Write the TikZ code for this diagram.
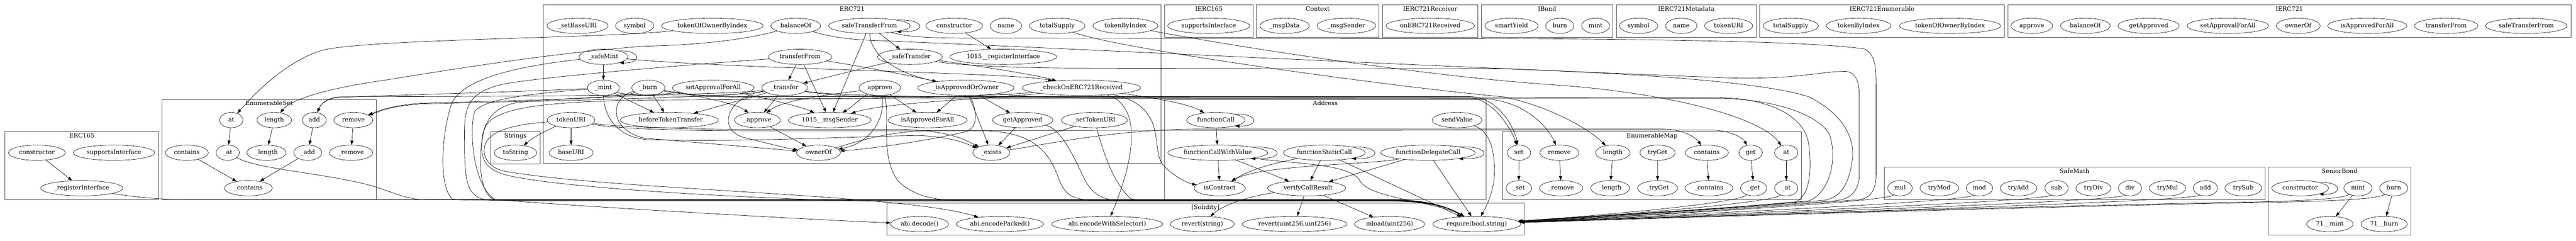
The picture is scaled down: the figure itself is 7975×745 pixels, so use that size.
\documentclass[tikz,border=0pt]{standalone}
\usepackage{fontspec}
\setmainfont{DejaVu Serif}
\usetikzlibrary{shapes.geometric,arrows.meta}
\newcommand\fs{\fontsize{14}{16}\selectfont}
\tikzset{
  fn/.style={ellipse, draw, line width=0.75pt, inner sep=0pt, minimum height=35.6pt,
             text height=10.5pt, text depth=3pt, font=\fs},
  clus/.style={draw=black!70, line width=1pt},
  clab/.style={inner sep=0pt, text height=10.5pt, text depth=3pt, font=\fs},
  conn/.style={line width=0.8pt, -{Triangle[length=10pt,width=7pt]}},
}
\newcommand\fnode[5]{\node[fn, minimum width=#4*0.75pt] (#1) at (#2,#3) {#5};}
\newcommand\clus[6]{\draw[clus] (#1,#2) rectangle (#3,#4); \node[clab] (#5) at ({(#1+#3)/2},{#2+14}) {#6};}
\newcommand\sloop[3]{\draw[conn] (#1.#2) .. controls +(#3,-3) and +(#3,3) .. (#1.-#2);}
\begin{document}
\begin{tikzpicture}[x=0.75pt,y=-0.75pt]
\useasboundingbox (0,0) rectangle (7975,745);
% ---------------- clusters
\clus{15.7}{407.6}{490.7}{618.5}{lE165}{ERC165}
\clus{501}{307.8}{1165}{618.5}{lES}{EnumerableSet}
\clus{1519.6}{407.6}{1671.8}{507.4}{lStr}{Strings}
\clus{1682}{15.7}{3594}{507}{lE721}{ERC721}
\clus{3605}{15.7}{3880}{115.4}{lI165}{IERC165}
\clus{3890}{15.7}{4269}{115.4}{lCtx}{Context}
\clus{4279.7}{15.7}{4575.7}{115.4}{lRecv}{IERC721Receiver}
\clus{4586}{15.7}{4993}{115.4}{lBond}{IBond}
\clus{5003.6}{15.7}{5437.5}{115.4}{lMeta}{IERC721Metadata}
\clus{5447.6}{15.7}{6205}{115.4}{lEnum}{IERC721Enumerable}
\clus{6215.7}{15.7}{7959}{115.4}{lI721}{IERC721}
\clus{3605}{307.8}{4600.7}{618.5}{lAddr}{Address}
\clus{4652}{407.6}{5577}{618.5}{lEM}{EnumerableMap}
\clus{2745}{629.5}{4718.6}{728}{lSol}{[Solidity]}
\clus{5833}{518}{7011.7}{618.5}{lSM}{SafeMath}
\clus{7022}{518}{7464}{728}{lSB}{SeniorBond}
% ---------------- ERC165
\fnode{eCtor}{114}{473}{176}{constructor}
\fnode{eSupp}{353}{473}{252}{supportsInterface}
\fnode{eReg}{253}{583}{255}{\_registerInterface}
% ---------------- EnumerableSet
\fnode{esContains}{578.5}{473}{133}{contains}
\fnode{esAt}{716}{372}{72}{at}
\fnode{esLength}{849}{372}{107}{length}
\fnode{esAdd}{973}{372}{74}{add}
\fnode{esRemove}{1094}{372}{121}{remove}
\fnode{esAtP}{705}{473}{72}{\_at}
\fnode{esLengthP}{825}{473}{121}{\_length}
\fnode{esAddP}{953}{473}{87}{\_add}
\fnode{esRemoveP}{1087}{473}{134}{\_remove}
\fnode{esContainsP}{769}{583}{148}{\_contains}
% ---------------- Strings
\fnode{toStr}{1596}{473}{131.5}{toString}
% ---------------- ERC721
\fnode{setBase}{1788}{80}{189}{\_setBaseURI}
\fnode{symb}{1965}{80}{119}{symbol}
\fnode{tOfOwner}{2205}{80}{315}{tokenOfOwnerByIndex}
\fnode{balOf}{2463.6}{80}{154}{balanceOf}
\fnode{sTF}{2691.6}{80}{253}{safeTransferFrom}
\fnode{ctorE}{2954}{80}{176}{constructor}
\fnode{nameN}{3114}{80}{97}{name}
\fnode{totSup}{3273}{80}{172}{totalSupply}
\fnode{tByIdx}{3484}{80}{201}{tokenByIndex}
\fnode{safeMint}{1868}{176}{151}{\_safeMint}
\fnode{tF}{2477}{176}{196}{transferFrom}
\fnode{safeTr}{2817}{176}{200.6}{\_safeTransfer}
\fnode{regK}{3106}{176}{331}{1015\_\_registerInterface}
\fnode{mintP}{1868}{272}{99}{\_mint}
\fnode{burnP}{2007}{272}{102}{\_burn}
\fnode{setAFA}{2208}{272}{253}{setApprovalForAll}
\fnode{transferP}{2429}{272}{141}{\_transfer}
\fnode{approveN}{2724}{272}{128}{approve}
\fnode{isAOO}{2990}{272}{298}{\_isApprovedOrOwner}
\fnode{checkOn}{3348}{272}{367}{\_checkOnERC721Received}
\fnode{tokURI}{1768}{372}{148}{tokenURI}
\fnode{beforeTT}{2072}{372}{304}{\_beforeTokenTransfer}
\fnode{approveP}{2345}{372}{142}{\_approve}
\fnode{msgSK}{2568.6}{372}{257}{1015\_\_msgSender}
\fnode{isAFA}{2871.6}{372}{245}{isApprovedForAll}
\fnode{getApp}{3166}{372}{187}{getApproved}
\fnode{setTU}{3388}{372}{205}{\_setTokenURI}
\fnode{baseURIN}{1768}{473}{136}{baseURI}
\fnode{ownerOfN}{2534}{473}{136}{ownerOf}
\fnode{existsP}{3069}{473}{114.5}{\_exists}
% ---------------- interfaces / context
\fnode{iSupp}{3742}{80}{254}{supportsInterface}
\fnode{msgData}{3977}{80}{153}{\_msgData}
\fnode{msgSender}{4168}{80}{182}{\_msgSender}
\fnode{onRecv}{4427.7}{80}{275}{onERC721Received}
\fnode{smartY}{4679.5}{80}{165}{smartYield}
\fnode{ibBurn}{4829}{80}{87}{burn}
\fnode{ibMint}{4939.6}{80}{86.5}{mint}
\fnode{mdSym}{5072.7}{80}{118}{symbol}
\fnode{mdName}{5205}{80}{97}{name}
\fnode{mdURI}{5351.5}{80}{149}{tokenURI}
\fnode{enTot}{5544}{80}{171}{totalSupply}
\fnode{enByIdx}{5754}{80}{200}{tokenByIndex}
\fnode{enOwner}{6037}{80}{314}{tokenOfOwnerByIndex}
\fnode{iApp}{6290}{80}{129}{approve}
\fnode{iBal}{6456}{80}{154}{balanceOf}
\fnode{iGet}{6652}{80}{189}{getApproved}
\fnode{iSAFA}{6897}{80}{252}{setApprovalForAll}
\fnode{iOwn}{7115}{80}{136}{ownerOf}
\fnode{iIAFA}{7328.6}{80}{245}{isApprovedForAll}
\fnode{iTF}{7573}{80}{196}{transferFrom}
\fnode{iSTF}{7821}{80}{253}{safeTransferFrom}
% ---------------- Address
\fnode{fCall}{3764}{372}{181}{functionCall}
\fnode{fCWV}{3770}{473}{309}{functionCallWithValue}
\fnode{isContr}{3776}{583}{159}{isContract}
\fnode{verify}{4045}{583}{242}{\_verifyCallResult}
\fnode{fStatic}{4100}{473}{254}{functionStaticCall}
\fnode{fDeleg}{4421}{473}{292}{functionDelegateCall}
\fnode{sendV}{4511}{372}{154}{sendValue}
% ---------------- EnumerableMap
\fnode{emSet}{4702.5}{473}{72}{set}
\fnode{emRemove}{4827.6}{473}{121}{remove}
\fnode{emLength}{4993}{473}{107}{length}
\fnode{emTryGet}{5131.5}{473}{109}{tryGet}
\fnode{emContains}{5284}{473}{133.5}{contains}
\fnode{emGet}{5419.7}{473}{72}{get}
\fnode{emAt}{5530}{473}{72}{at}
\fnode{emSetP}{4702}{583}{79}{\_set}
\fnode{emRemoveP}{4833}{583}{134}{\_remove}
\fnode{emLengthP}{4985}{583}{121}{\_length}
\fnode{emTryGetP}{5131.7}{583}{124}{\_tryGet}
\fnode{emContainsP}{5290.5}{583}{148}{\_contains}
\fnode{emGetP}{5429}{583}{81}{\_get}
\fnode{emAtP}{5530}{583}{72}{\_at}
% ---------------- Solidity
\fnode{abiDec}{2847}{694}{180}{abi.decode()}
\fnode{abiEnc}{3095.5}{694}{270.6}{abi.encodePacked()}
\fnode{abiSel}{3428}{694}{344}{abi.encodeWithSelector()}
\fnode{revStr}{3722}{694}{198}{revert(string)}
\fnode{revUint}{4008}{694}{324}{revert(uint256,uint256)}
\fnode{mloadN}{4302}{694}{217.5}{mload(uint256)}
\fnode{requireN}{4572}{694}{273}{require(bool,string)}
% ---------------- SafeMath
\fnode{smMul}{5882}{583}{76}{mul}
\fnode{smTryMod}{6004}{583}{120}{tryMod}
\fnode{smMod}{6128}{583}{82}{mod}
\fnode{smTryAdd}{6249}{583}{114}{tryAdd}
\fnode{smSub}{6366.7}{583}{72}{sub}
\fnode{smTryDiv}{6481}{583}{108}{tryDiv}
\fnode{smDiv}{6594}{583}{72}{div}
\fnode{smTryMul}{6710.6}{583}{113}{tryMul}
\fnode{smAdd}{6827.7}{583}{75}{add}
\fnode{smTrySub}{6945}{583}{114}{trySub}
% ---------------- SeniorBond
\fnode{sbCtor}{7121}{583}{176}{constructor}
\fnode{sbMint}{7300}{583}{87}{mint}
\fnode{sbBurn}{7410.7}{583}{87}{burn}
\fnode{sbMintK}{7213}{694}{144}{71\_\_mint}
\fnode{sbBurnK}{7381}{694}{143}{71\_\_burn}
% ================= edges
% ERC165 / EnumerableSet
\draw[conn] (eCtor) -- (eReg);
\draw[conn] (esAt) -- (esAtP);
\draw[conn] (esLength) -- (esLengthP);
\draw[conn] (esAdd) -- (esAddP);
\draw[conn] (esRemove) -- (esRemoveP);
\draw[conn] (esContains) -- (esContainsP);
\draw[conn] (esAddP) -- (esContainsP);
\draw[conn] (eReg) .. controls (400,608) and (480,617) .. (560,618) -- (4300,618) .. controls (4430,618) and (4490,645) .. (requireN);
\draw[conn] (esAtP) .. controls (800,525) and (1000,535) .. (1150,575) .. controls (1230,600) and (1260,619) .. (1330,619) -- (4300,619) .. controls (4430,619) and (4490,645) .. (requireN);
% ERC721 internal
\sloop{safeMint}{20.5}{68}
\sloop{sTF}{12.6}{93}
\draw[conn] (safeMint) -- (mintP);
\draw[conn] (safeMint) .. controls (2300,215) and (3150,225) .. (checkOn);
\draw[conn] (mintP) -- (beforeTT);
\draw[conn] (burnP) -- (beforeTT);
\draw[conn] (transferP) -- (beforeTT);
\draw[conn] (transferP) -- (approveP);
\draw[conn] (approveP) -- (ownerOfN);
\draw[conn] (approveN) -- (isAFA);
\draw[conn] (isAOO) -- (isAFA);
\draw[conn] (isAOO) -- (getApp);
\draw[conn] (isAOO) -- (existsP);
\draw[conn] (getApp) -- (existsP);
\draw[conn] (setTU) -- (existsP);
\draw[conn] (tF) -- (transferP);
\draw[conn] (tF) -- (msgSK);
\draw[conn] (sTF) -- (msgSK);
\draw[conn] (sTF) -- (safeTr);
\draw[conn] (safeTr) -- (transferP);
\draw[conn] (ctorE) -- (regK);
\draw[conn] (tokURI) -- (baseURIN);
\draw[conn] (tokURI) .. controls (1700,400) and (1650,425) .. (toStr);
\draw[conn] (setAFA) .. controls (2350,300) and (2480,330) .. (msgSK);
\draw[conn] (tF) .. controls (2600,195) and (2750,220) .. (isAOO);
\draw[conn] (sTF) .. controls (2695,170) and (2770,225) .. (isAOO);
\draw[conn] (safeTr) .. controls (3000,200) and (3200,230) .. (checkOn);
\draw[conn] (burnP) .. controls (2150,295) and (2280,320) .. (approveP);
\draw[conn] (approveN) .. controls (2600,290) and (2430,305) .. (approveP);
\draw[conn] (approveN) .. controls (2670,300) and (2640,330) .. (msgSK);
\draw[conn] (checkOn) .. controls (3100,305) and (2750,315) .. (msgSK);
\draw[conn] (approveN) .. controls (2745,370) and (2690,445) .. (ownerOfN);
\draw[conn] (isAOO) .. controls (3025,340) and (3030,395) .. (2990,408) .. controls (2850,440) and (2700,460) .. (ownerOfN);
\draw[conn] (transferP) .. controls (2250,300) and (2220,400) .. (2300,425) .. controls (2380,445) and (2440,460) .. (ownerOfN);
\draw[conn] (burnP) .. controls (1890,300) and (1880,400) .. (1995,428) .. controls (2200,445) and (2400,462) .. (ownerOfN);
\draw[conn] (mintP) .. controls (1870,370) and (1920,425) .. (2000,432) .. controls (2300,442) and (2700,420) .. (2850,420) .. controls (2950,425) and (2990,445) .. (existsP);
\draw[conn] (tokURI) .. controls (1900,392) and (2100,400) .. (2300,401) -- (2800,401) .. controls (2950,405) and (3000,440) .. (existsP);
% ERC721 -> EnumerableSet
\draw[conn] (balOf) .. controls (2300,125) and (2150,140) .. (1995,143) .. controls (1700,165) and (1400,215) .. (1200,247) .. controls (1000,275) and (900,310) .. (esLength);
\draw[conn] (tOfOwner) .. controls (1900,118) and (1150,120) .. (1000,155) .. controls (880,190) and (780,300) .. (esAt);
\draw[conn] (mintP) .. controls (1600,285) and (1200,295) .. (1040,302) .. controls (1000,310) and (990,330) .. (esAdd);
\draw[conn] (transferP) .. controls (2200,300) and (1300,298) .. (1050,300) .. controls (1005,305) and (992,325) .. (esAdd);
\draw[conn] (burnP) .. controls (1900,310) and (1400,315) .. (1300,320) .. controls (1200,328) and (1170,345) .. (esRemove);
\draw[conn] (transferP) .. controls (2250,305) and (1400,318) .. (1300,322) .. controls (1200,330) and (1172,347) .. (esRemove);
% ERC721 -> EnumerableMap
\draw[conn] (mintP) .. controls (1950,300) and (2200,299) .. (2500,299) -- (4550,299) .. controls (4640,300) and (4690,400) .. (emSet);
\draw[conn] (transferP) .. controls (2600,302) and (2800,303) .. (3000,303) -- (4550,303) .. controls (4620,305) and (4680,400) .. (emSet);
\draw[conn] (burnP) .. controls (2150,302) and (2400,306) .. (2600,306) -- (4600,306) .. controls (4720,315) and (4790,390) .. (emRemove);
\draw[conn] (totSup) .. controls (3450,150) and (4300,268) .. (4655,300) .. controls (4800,330) and (4920,400) .. (emLength);
\draw[conn] (tByIdx) .. controls (3800,140) and (4400,235) .. (4800,262) .. controls (5150,285) and (5450,360) .. (emAt);
\draw[conn] (existsP) .. controls (3250,445) and (3450,402) .. (3700,400) -- (5150,400) .. controls (5200,400) and (5245,420) .. (emContains);
\draw[conn] (ownerOfN) .. controls (2650,440) and (2750,404) .. (2900,404) -- (5300,403) .. controls (5350,403) and (5395,425) .. (emGet);
% ERC721 -> Solidity / Address
\draw[conn] (tokURI) .. controls (1600,385) and (1530,400) .. (1505,440) .. controls (1490,470) and (1500,515) .. (1560,530) .. controls (1900,590) and (2800,600) .. (abiEnc);
\draw[conn] (checkOn) .. controls (3000,305) and (2400,308) .. (1995,310) .. controls (1700,315) and (1520,330) .. (1500,400) .. controls (1480,470) and (1480,600) .. (1530,618) .. controls (1800,640) and (2500,680) .. (abiDec);
\draw[conn] (checkOn) .. controls (3520,320) and (3530,450) .. (abiSel);
\draw[conn] (checkOn) .. controls (3550,300) and (3680,320) .. (fCall);
\draw[conn] (checkOn) .. controls (3620,330) and (3560,460) .. (3600,510) .. controls (3640,555) and (3690,570) .. (isContr);
% ERC721 -> require (left bus)
\draw[conn] (safeMint) .. controls (1600,205) and (1420,245) .. (1395,330) .. controls (1365,430) and (1360,580) .. (1400,616) .. controls (1420,620) and (1440,620) .. (1500,620) -- (4300,620) .. controls (4430,620) and (4490,645) .. (requireN);
\draw[conn] (tF) .. controls (2200,195) and (1700,235) .. (1560,260) .. controls (1450,285) and (1437,330) .. (1438,420) .. controls (1438,560) and (1440,615) .. (1520,621) -- (4300,621) .. controls (4430,621) and (4490,645) .. (requireN);
\draw[conn] (mintP) .. controls (1650,290) and (1500,305) .. (1470,345) .. controls (1455,380) and (1455,560) .. (1530,617) .. controls (1560,621) and (1600,622) .. (1650,622) -- (4300,622) .. controls (4430,622) and (4490,645) .. (requireN);
\draw[conn] (setAFA) .. controls (2000,300) and (1700,305) .. (1600,318) .. controls (1500,335) and (1490,420) .. (1491,456) .. controls (1492,500) and (1510,525) .. (1560,540) .. controls (1700,580) and (2300,615) .. (2700,623) -- (4300,623) .. controls (4430,623) and (4490,645) .. (requireN);
\draw[conn] (tokURI) .. controls (1900,398) and (2100,405) .. (2300,405) -- (3050,405) .. controls (3200,410) and (3250,470) .. (3280,560) .. controls (3300,605) and (3320,620) .. (3400,620) -- (4300,620) .. controls (4430,620) and (4490,645) .. (requireN);
\draw[conn] (getApp) .. controls (3290,400) and (3330,500) .. (3360,560) .. controls (3390,610) and (3420,621) .. (3480,621) -- (4300,621) .. controls (4430,621) and (4490,645) .. (requireN);
\draw[conn] (setTU) .. controls (3410,450) and (3440,560) .. (3500,615) .. controls (3520,620) and (3540,622) .. (3580,622) -- (4300,622) .. controls (4430,622) and (4490,645) .. (requireN);
\draw[conn] (approveN) .. controls (2760,340) and (2720,480) .. (2780,560) .. controls (2830,610) and (2900,622) .. (3000,622) -- (4300,622) .. controls (4430,622) and (4490,645) .. (requireN);
% ERC721 -> require (right loops)
\draw[conn] (transferP) .. controls (2600,300) and (3000,301) .. (3300,301) -- (5320,302) .. controls (5480,305) and (5590,360) .. (5600,450) .. controls (5610,540) and (5600,605) .. (5560,625) .. controls (5300,650) and (4900,670) .. (requireN);
\draw[conn] (isAOO) .. controls (3150,300) and (3300,304) .. (3500,304) -- (5320,305) .. controls (5500,306) and (5640,360) .. (5665,420) .. controls (5690,500) and (5660,600) .. (5600,622) .. controls (5300,650) and (4900,672) .. (requireN);
\draw[conn] (safeTr) .. controls (2950,200) and (3100,210) .. (3325,211) -- (4655,213) .. controls (5000,225) and (5450,250) .. (5600,300) .. controls (5720,360) and (5740,440) .. (5735,490) .. controls (5725,570) and (5700,610) .. (5650,620) .. controls (5300,650) and (4900,674) .. (requireN);
\draw[conn] (balOf) .. controls (2560,112) and (2620,122) .. (2700,125) .. controls (3200,145) and (4300,200) .. (5320,240) .. controls (5550,250) and (5640,220) .. (5714,221) .. controls (5750,225) and (5756,260) .. (5756,300) -- (5756,540) .. controls (5756,600) and (5720,618) .. (5680,622) .. controls (5300,650) and (4900,676) .. (requireN);
\draw[conn] (sTF) .. controls (2800,112) and (2850,118) .. (3000,118) -- (4655,119) .. controls (5000,122) and (5600,125) .. (5774,152) .. controls (5810,175) and (5808,214) .. (5808,300) -- (5808,540) .. controls (5808,590) and (5790,612) .. (5760,618) .. controls (5300,655) and (4900,678) .. (requireN);
% Address
\sloop{fCall}{17.3}{75}
\sloop{fCWV}{10.4}{106}
\sloop{fStatic}{12.5}{93}
\sloop{fDeleg}{11}{102}
\draw[conn] (fCall) -- (fCWV);
\draw[conn] (fCWV) -- (isContr);
\draw[conn] (fCWV) -- (verify);
\draw[conn] (fStatic) -- (verify);
\draw[conn] (fDeleg) -- (verify);
\draw[conn] (fStatic) -- (requireN);
\draw[conn] (fDeleg) -- (requireN);
\draw[conn] (fStatic) .. controls (3950,505) and (3880,520) .. (isContr);
\draw[conn] (fDeleg) .. controls (4250,510) and (3900,510) .. (isContr);
\draw[conn] (fCWV) .. controls (4000,508) and (4180,505) .. (4210,560) .. controls (4240,615) and (4450,625) .. (requireN);
\draw[conn] (sendV) .. controls (4625,410) and (4630,500) .. (4625,560) .. controls (4615,620) and (4595,650) .. (requireN);
\draw[conn] (verify) .. controls (3850,610) and (3780,640) .. (revStr);
\draw[conn] (verify) -- (revUint);
\draw[conn] (verify) -- (mloadN);
% EnumerableMap
\draw[conn] (emSet) -- (emSetP);
\draw[conn] (emRemove) -- (emRemoveP);
\draw[conn] (emLength) -- (emLengthP);
\draw[conn] (emTryGet) -- (emTryGetP);
\draw[conn] (emContains) -- (emContainsP);
\draw[conn] (emGet) -- (emGetP);
\draw[conn] (emAt) -- (emAtP);
\draw[conn] (emGetP) .. controls (5380,630) and (4950,668) .. (requireN);
\draw[conn] (emAtP) .. controls (5490,630) and (4950,670) .. (requireN);
% SafeMath
\draw[conn] (smMul) .. controls (5840,628) and (4950,675) .. (requireN);
\draw[conn] (smMod) .. controls (6090,628) and (4950,676) .. (requireN);
\draw[conn] (smSub) .. controls (6330,628) and (4950,677) .. (requireN);
\draw[conn] (smDiv) .. controls (6560,628) and (4950,678) .. (requireN);
\draw[conn] (smAdd) .. controls (6790,628) and (4950,679) .. (requireN);
% SeniorBond
\sloop{sbCtor}{17.8}{74}
\draw[conn] (sbMint) -- (sbMintK);
\draw[conn] (sbBurn) -- (sbBurnK);
\draw[conn] (sbMint) .. controls (7250,618) and (7100,623) .. (6950,626) .. controls (6000,645) and (4950,680) .. (requireN);
\draw[conn] (sbBurn) .. controls (7360,618) and (7200,624) .. (7000,627) .. controls (6000,648) and (4950,682) .. (requireN);
\end{tikzpicture}
\end{document}
